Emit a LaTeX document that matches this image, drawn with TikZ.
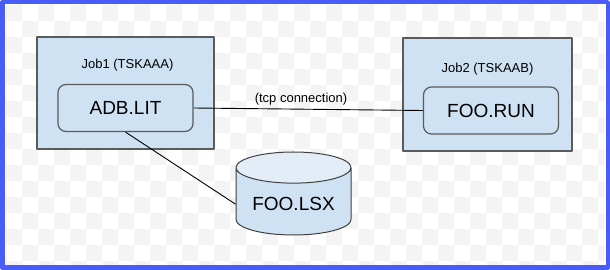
\documentclass[tikz,border=0pt]{standalone}
\usepackage{fontspec}
\setmainfont{Liberation Sans}
\usetikzlibrary{shapes.geometric,positioning}
\definecolor{jobfill}{HTML}{CFE2F3}
\definecolor{endfill}{HTML}{E2EDF8}
\definecolor{boxline}{HTML}{5A5A5A}
\definecolor{frameblue}{HTML}{4A5CF8}
\definecolor{checker}{HTML}{F4F4F4}

\begin{document}
\begin{tikzpicture}[
  x=1pt,y=1pt,
  line join=round,
  jobbox/.style={draw=boxline,fill=jobfill,line width=1.2pt,inner sep=0pt},
  taskbox/.style={draw=boxline,fill=jobfill,line width=1.2pt,rounded corners=8pt,
    minimum width=135pt,minimum height=47pt,font=\fontsize{19}{22}\selectfont},
  joblabel/.style={font=\fontsize{13}{15}\selectfont},
  filestore/.style={cylinder,shape border rotate=90,shape aspect=0.35,
    draw=black!75,line width=1pt,cylinder uses custom fill,
    cylinder body fill=jobfill,cylinder end fill=endfill,
    minimum width=115pt,minimum height=83pt,
    font=\fontsize{19}{22}\selectfont},
  link/.style={black,line width=0.9pt}
]
\useasboundingbox (0,0) rectangle (610,270);

\begin{scope}
  \clip (5,5) rectangle (605,265);
  \foreach \i in {0,...,37}
    \foreach \j in {0,...,16}{
      \pgfmathparse{int(mod(\i+\j,2))}
      \ifnum\pgfmathresult=0
        \fill[checker] (6+16*\i,265-16*\j) rectangle ++(16,-16);
      \fi
    }
\end{scope}
\draw[frameblue,line width=4.5pt] (2.25,2.25) rectangle (607.75,267.75);

\node[jobbox,minimum width=177pt,minimum height=112pt] (job1) at (125.5,177) {};
\node[jobbox,minimum width=169pt,minimum height=113pt] (job2) at (487.5,175.5) {};
\node[joblabel] (job1label) at (127.5,205) {Job1 (TSKAAA)};
\node[joblabel] (job2label) at (487.5,201) {Job2 (TSKAAB)};

\node[taskbox] (adblit) at (125.5,162) {ADB.LIT};
\node[taskbox] (foorun) at (491,159.5) {FOO.RUN};
\node[filestore,anchor=shape center] (foolsx) at (293.5,76.5) {FOO.LSX};

\draw[link] (adblit.east) -- (foorun.west);
\node[joblabel] (tcplabel) at (301,171) {(tcp connection)};
\draw[link] (adblit.south) -- (foolsx.west);
\end{tikzpicture}
\end{document}
